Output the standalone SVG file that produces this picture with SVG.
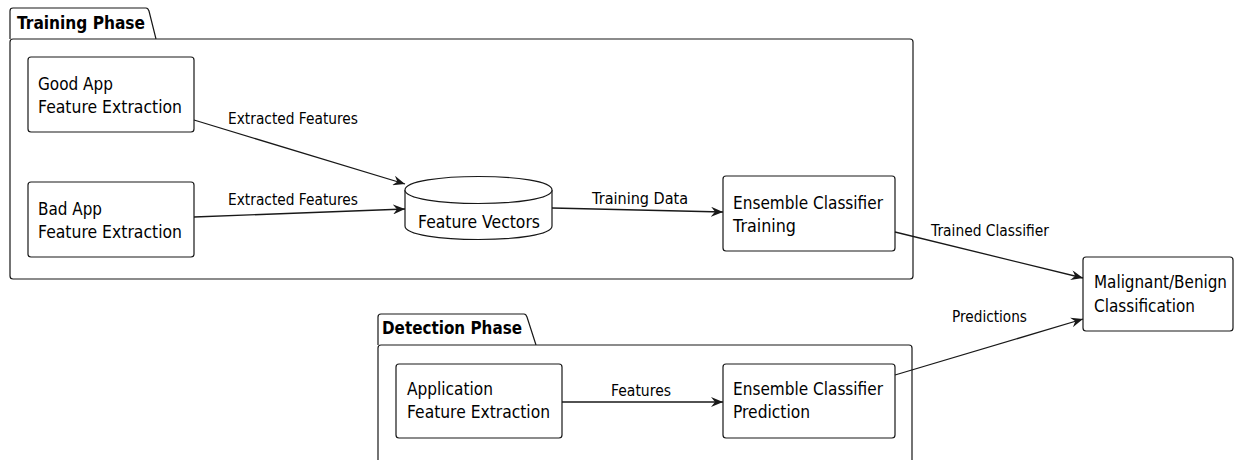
<svg xmlns="http://www.w3.org/2000/svg" width="1235" height="460" viewBox="0 0 1235 460">
<style>
.pkg{fill:#ffffff;stroke:#181818;stroke-width:1.2}
.node{fill:#ffffff;stroke:#181818;stroke-width:1.2}
.t{font-family:"DejaVu Sans",Verdana,sans-serif;font-size:18px;fill:#000000}
.tb{font-family:"DejaVu Sans",Verdana,sans-serif;font-size:18px;font-weight:bold;fill:#000000}
.lbl{font-family:"DejaVu Sans",Verdana,sans-serif;font-size:16px;fill:#000000}
.edge{fill:none;stroke:#181818;stroke-width:1.3}
</style>
<defs>
<marker id="arr" viewBox="0 0 12 10" markerWidth="12" markerHeight="10" refX="12" refY="5" orient="auto" markerUnits="userSpaceOnUse">
<path d="M0,0 L12,5 L0,10 L4,5 Z" fill="#181818"/>
</marker>
</defs>
<rect width="1235" height="460" fill="#ffffff"/>

<g id="training-phase">
<path class="pkg" d="M10,39 L10,11 Q10,8 13,8 L146,8 Q148,8 149,11 L156,39"/>
<rect class="pkg" x="10" y="39" width="903" height="240" rx="3"/>
<text class="tb" x="17" y="29" textLength="128" lengthAdjust="spacingAndGlyphs">Training Phase</text>
</g>

<g id="detection-phase">
<path class="pkg" d="M378,345 L378,317 Q378,314 381,314 L524,314 Q526,314 527,317 L536,345"/>
<rect class="pkg" x="378" y="345" width="534" height="140" rx="3"/>
<text class="tb" x="382" y="334" textLength="140" lengthAdjust="spacingAndGlyphs">Detection Phase</text>
</g>

<g id="good-app">
<rect class="node" x="28" y="57" width="166" height="75" rx="3"/>
<text class="t" x="38" y="90" textLength="75" lengthAdjust="spacingAndGlyphs">Good App</text>
<text class="t" x="38" y="113" textLength="144" lengthAdjust="spacingAndGlyphs">Feature Extraction</text>
</g>

<g id="bad-app">
<rect class="node" x="28" y="182" width="166" height="75" rx="3"/>
<text class="t" x="38" y="215" textLength="64" lengthAdjust="spacingAndGlyphs">Bad App</text>
<text class="t" x="38" y="238" textLength="144" lengthAdjust="spacingAndGlyphs">Feature Extraction</text>
</g>

<g id="feature-vectors">
<path class="node" d="M405,190 C405,172 552,172 552,190 L552,226 C552,244 405,244 405,226 Z"/>
<path class="node" fill="none" d="M405,190 C405,208 552,208 552,190"/>
<text class="t" x="418" y="228" textLength="122" lengthAdjust="spacingAndGlyphs">Feature Vectors</text>
</g>

<g id="ensemble-training">
<rect class="node" x="723" y="176" width="172" height="75" rx="3"/>
<text class="t" x="733" y="209" textLength="150" lengthAdjust="spacingAndGlyphs">Ensemble Classifier</text>
<text class="t" x="733" y="232" textLength="63" lengthAdjust="spacingAndGlyphs">Training</text>
</g>

<g id="malignant-benign">
<rect class="node" x="1083" y="257" width="150" height="74" rx="3"/>
<text class="t" x="1094" y="288" textLength="133" lengthAdjust="spacingAndGlyphs">Malignant/Benign</text>
<text class="t" x="1094" y="312" textLength="101" lengthAdjust="spacingAndGlyphs">Classification</text>
</g>

<g id="application">
<rect class="node" x="396" y="364" width="166" height="74" rx="3"/>
<text class="t" x="407" y="395" textLength="86" lengthAdjust="spacingAndGlyphs">Application</text>
<text class="t" x="407" y="418" textLength="143" lengthAdjust="spacingAndGlyphs">Feature Extraction</text>
</g>

<g id="ensemble-prediction">
<rect class="node" x="723" y="364" width="172" height="74" rx="3"/>
<text class="t" x="733" y="395" textLength="150" lengthAdjust="spacingAndGlyphs">Ensemble Classifier</text>
<text class="t" x="733" y="418" textLength="77" lengthAdjust="spacingAndGlyphs">Prediction</text>
</g>

<g id="connectors">
<path class="edge" d="M194,120 L405,184" marker-end="url(#arr)"/>
<text class="lbl" x="228" y="124" textLength="130" lengthAdjust="spacingAndGlyphs">Extracted Features</text>
<path class="edge" d="M194,217 L405,209" marker-end="url(#arr)"/>
<text class="lbl" x="228" y="205" textLength="130" lengthAdjust="spacingAndGlyphs">Extracted Features</text>
<path class="edge" d="M552,208 L723,212" marker-end="url(#arr)"/>
<text class="lbl" x="592" y="204" textLength="96" lengthAdjust="spacingAndGlyphs">Training Data</text>
<path class="edge" d="M895,232 L1083,278" marker-end="url(#arr)"/>
<text class="lbl" x="931" y="236" textLength="118" lengthAdjust="spacingAndGlyphs">Trained Classifier</text>
<path class="edge" d="M895,375 L1083,319" marker-end="url(#arr)"/>
<text class="lbl" x="952" y="322" textLength="75" lengthAdjust="spacingAndGlyphs">Predictions</text>
<path class="edge" d="M562,402 L723,402" marker-end="url(#arr)"/>
<text class="lbl" x="611" y="396" textLength="60" lengthAdjust="spacingAndGlyphs">Features</text>
</g>
</svg>
